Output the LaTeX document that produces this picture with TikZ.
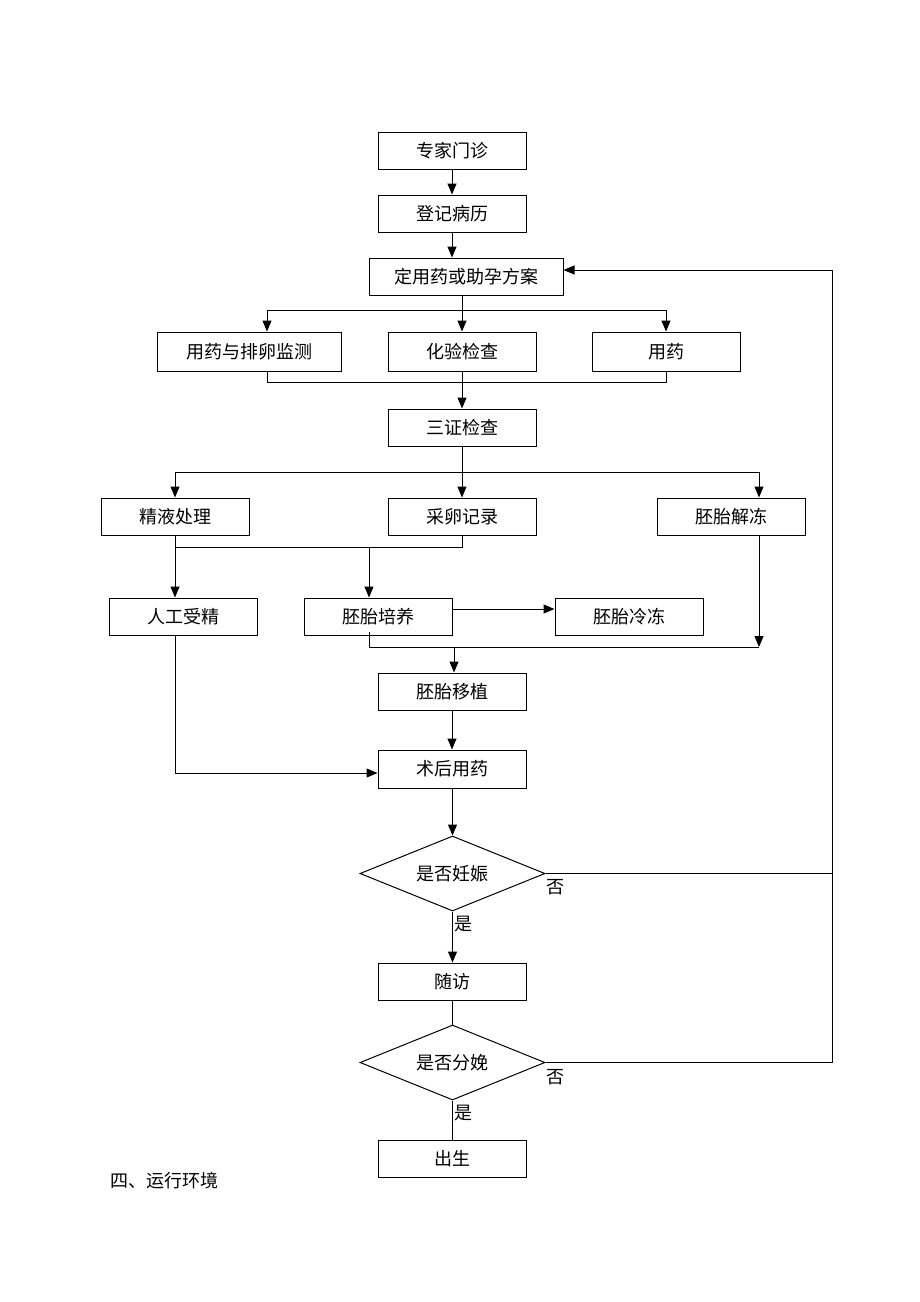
\documentclass[tikz,border=0pt]{standalone}
\usepackage{fontspec}
\setmainfont{Noto Sans CJK SC}
\usetikzlibrary{shapes.geometric,arrows.meta}
\begin{document}
\begin{tikzpicture}[x=1pt,y=-1pt,
  font=\fontsize{18}{21}\selectfont,
  box/.style={draw,line width=1pt,rectangle,minimum width=148pt,minimum height=37pt,inner sep=0pt},
  dia/.style={draw,line width=1pt,diamond,shape aspect=2.5,minimum width=185pt,minimum height=75pt,inner sep=0pt},
  ln/.style={line width=1pt},
  arr/.style={line width=1pt,-{Triangle[length=11pt,width=9pt]}},
  lbl/.style={inner sep=0pt}]
\useasboundingbox (0,0) rectangle (920,1302);
\node[box] (zj) at (452,150.5) {专家门诊};
\node[box] (dj) at (452,213.5) {登记病历};
\node[box,minimum width=194pt] (plan) at (466,276.5) {定用药或助孕方案};
\node[box,minimum width=184pt,minimum height=39pt] (m1) at (249,351.5) {用药与排卵监测};
\node[box,minimum height=39pt] (m2) at (462,351.5) {化验检查};
\node[box,minimum height=39pt] (m3) at (666,351.5) {用药};
\node[box] (sz) at (462,427.5) {三证检查};
\node[box] (jy) at (175,516.5) {精液处理};
\node[box] (cl) at (462,516.5) {采卵记录};
\node[box] (jd) at (731,516.5) {胚胎解冻};
\node[box] (rg) at (183,616.5) {人工受精};
\node[box] (py) at (378,616.5) {胚胎培养};
\node[box] (ld) at (629,616.5) {胚胎冷冻};
\node[box] (yz) at (452,691.5) {胚胎移植};
\node[box,minimum height=38pt] (sh) at (452,769) {术后用药};
\node[dia] (rs) at (452.5,873.5) {是否妊娠};
\node[box] (sf) at (452,981.5) {随访};
\node[dia] (fm) at (452.5,1062.5) {是否分娩};
\node[box] (cs) at (452,1158.5) {出生};
\node[lbl,anchor=west] (env) at (110,1181) {四、运行环境};
\node[lbl] (no1) at (555,887) {否};
\node[lbl] (yes1) at (463,924) {是};
\node[lbl] (no2) at (555,1077) {否};
\node[lbl] (yes2) at (463,1113) {是};
% top
\draw[arr] (zj) -- (dj);
\draw[arr] (dj) -- (dj |- plan.north);
% split 1
\coordinate (j1) at (462,310);
\coordinate (j1l) at (267,310);
\coordinate (j1r) at (666,310);
\draw[ln] (plan.south -| m2) -- (j1);
\draw[ln] (j1l) -- (j1r);
\draw[arr] (j1l) -- (j1l |- m1.north);
\draw[arr] (j1) -- (m2.north);
\draw[arr] (j1r) -- (m3.north);
% merge 1
\coordinate (j2l) at (267,382);
\coordinate (j2r) at (666,382);
\draw[ln] (j2l |- m1.south) -- (j2l) -- (j2r) -- (m3.south);
\draw[arr] (m2) -- (sz);
% split 2
\coordinate (j3) at (462,472);
\coordinate (j3l) at (175,472);
\coordinate (j3r) at (759,472);
\draw[ln] (sz) -- (j3);
\draw[ln] (j3l) -- (j3r);
\draw[arr] (j3l) -- (jy.north);
\draw[arr] (j3) -- (cl.north);
\draw[arr] (j3r) -- (j3r |- jd.north);
% merge 2
\coordinate (j4) at (369,547);
\draw[ln] (jy.south) -- (jy.south |- j4) -- (cl.south |- j4) -- (cl.south);
\draw[arr] (jy.south |- j4) -- (jy.south |- rg.north);
\draw[arr] (j4) -- (j4 |- py.north);
% freeze
\draw[arr] (py.east |- 0,609) -- (ld.west |- 0,609);
% merge 3
\coordinate (j5) at (369,647);
\coordinate (j6) at (759,647);
\draw[arr] (jd.south -| j6) -- (j6);
\draw[ln] (369,632) -- (j5) -- (j6);
\draw[arr] (454,647) -- (yz.north -| 454,0);
\draw[arr] (yz) -- (sh);
% IUI
\coordinate (j7) at (175,773);
\draw[ln] (rg.south -| j7) -- (j7);
\draw[arr] (j7) -- (sh.west |- j7);
\draw[arr] (sh.south -| rs.north) -- (rs.north);
% pregnant
\draw[arr] (rs.south) -- (rs.south |- sf.north);
\coordinate (r1) at (832,873.5);
\coordinate (r2) at (832,1062.5);
\coordinate (r3) at (832,270);
\draw[ln] (rs.east) -- (r1);
\draw[ln] (fm.east) -- (r2) -- (r3);
\draw[arr] (r3) -- (plan.east |- r3);
\draw[ln] (sf.south -| fm.north) -- (fm.north);
\draw[ln] (fm.south) -- (fm.south |- cs.north);
\end{tikzpicture}
\end{document}
